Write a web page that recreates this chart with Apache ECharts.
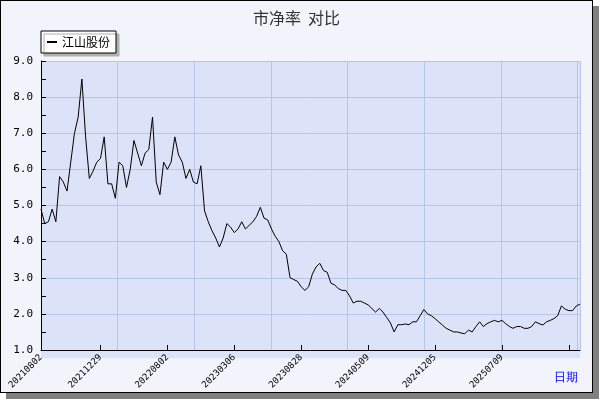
<!DOCTYPE html>
<html><head><meta charset="utf-8">
<script src="https://cdn.jsdelivr.net/npm/echarts@6/dist/echarts.min.js"></script>
<style>
body{margin:0;background:#fff;}
#c{position:absolute;left:0;top:0;width:591px;height:391px;border:1px solid #000;background:#f2f3fb;box-shadow:6px 6px 0 #808080;}
</style></head><body>
<div id="c"></div>
<script>
const title = '市净率  对比';
const seriesName = '江山股份';
const tickLabels = ['20210802','20211229','20220802','20230306','20230828','20240509','20241205','20250709'];
const values = [4.9,4.5,4.55,4.9,4.55,5.8,5.65,5.4,6.2,7.0,7.45,8.5,6.9,5.75,5.95,6.2,6.3,6.9,5.6,5.6,
5.2,6.2,6.1,5.5,6.0,6.8,6.45,6.1,6.45,6.55,7.45,5.65,5.3,6.2,6.0,6.2,6.9,6.4,6.2,5.75,
6.0,5.65,5.6,6.1,4.85,4.55,4.3,4.1,3.85,4.1,4.5,4.4,4.25,4.35,4.55,4.35,4.45,4.55,4.7,4.95,
4.65,4.6,4.35,4.15,4.0,3.75,3.65,3.0,2.95,2.9,2.75,2.65,2.75,3.1,3.3,3.4,3.2,3.15,2.85,2.8,
2.7,2.65,2.65,2.5,2.3,2.35,2.35,2.3,2.25,2.15,2.05,2.15,2.05,1.9,1.75,1.5,1.7,1.7,1.72,1.7,
1.78,1.78,1.95,2.12,2.0,1.95,1.87,1.78,1.69,1.6,1.55,1.5,1.5,1.47,1.45,1.55,1.5,1.65,1.78,1.65,
1.73,1.78,1.82,1.78,1.82,1.73,1.65,1.6,1.65,1.65,1.6,1.6,1.65,1.78,1.73,1.69,1.78,1.82,1.87,1.95,
2.22,2.13,2.09,2.09,2.22,2.27];
const labelAt = [0,16,34,52,70,88,106,124];
const cats = values.map((v,i)=>{ const k = labelAt.indexOf(i); return k>=0 ? tickLabels[k] : ''; });
const tickOn = i => i===0 || (i>=16 && (i-16)%18===0);
const chart = echarts.init(document.getElementById('c'));
chart.setOption({
  animation:false,
  backgroundColor:'#f2f3fb',
  title:{text:title,left:'center',top:4,textStyle:{fontSize:16,fontWeight:'normal',color:'#333',fontFamily:'Noto Sans CJK SC'}},
  legend:{left:40,top:30,itemWidth:10,itemHeight:2,icon:'rect',backgroundColor:'#fff',borderColor:'#000',borderWidth:1,padding:[5,6,5,6],
    shadowColor:'#b0b0b0',shadowOffsetX:3,shadowOffsetY:3,shadowBlur:0,
    textStyle:{fontSize:12,color:'#000',fontFamily:'Noto Sans CJK SC'},data:[seriesName]},
  grid:{left:40,top:60,right:12,bottom:42},
  xAxis:[{type:'category',data:cats,boundaryGap:false,
    axisLine:{lineStyle:{color:'#000',width:1}},
    axisTick:{interval:(i)=>tickOn(i),length:5,inside:true,lineStyle:{color:'#000'}},
    axisLabel:{interval:(i)=>cats[i]!=='',rotate:45,fontSize:9,color:'#000',fontFamily:'DejaVu Sans Mono',margin:6},
    splitLine:{show:false},
    name:'日期',nameLocation:'end',nameGap:-26,nameTextStyle:{color:'#0000ff',fontSize:12,verticalAlign:'top',padding:[22,0,0,0]}},
   {type:'value',min:0,max:7.03,interval:1,show:true,position:'top',axisLine:{show:false},axisTick:{show:false},axisLabel:{show:false},
    splitLine:{show:true,lineStyle:{color:'#b8c4e8',width:1}}}],
  yAxis:[{type:'value',min:1,max:9,interval:0.5,
    axisLine:{show:true,lineStyle:{color:'#000'}},
    axisTick:{show:true,inside:true,length:5,lineStyle:{color:'#000'}},
    axisLabel:{formatter:v=>Number.isInteger(v)?v.toFixed(1):'',fontSize:11,color:'#000',fontFamily:'DejaVu Sans Mono'},
    splitLine:{show:false}},
   {type:'value',min:1,max:9,interval:1,show:true,axisLine:{show:false},axisTick:{show:false},axisLabel:{show:false},
    splitLine:{show:true,lineStyle:{color:'#b8c4e8'}}}],
  graphic:[{type:'rect',z:-1,shape:{x:40,y:60,width:539,height:297},style:{fill:'#dce2f7'}}],
  series:[{name:seriesName,type:'line',data:values,symbol:'none',lineStyle:{color:'#000',width:1},itemStyle:{color:'#000'}}]
});
</script></body></html>
